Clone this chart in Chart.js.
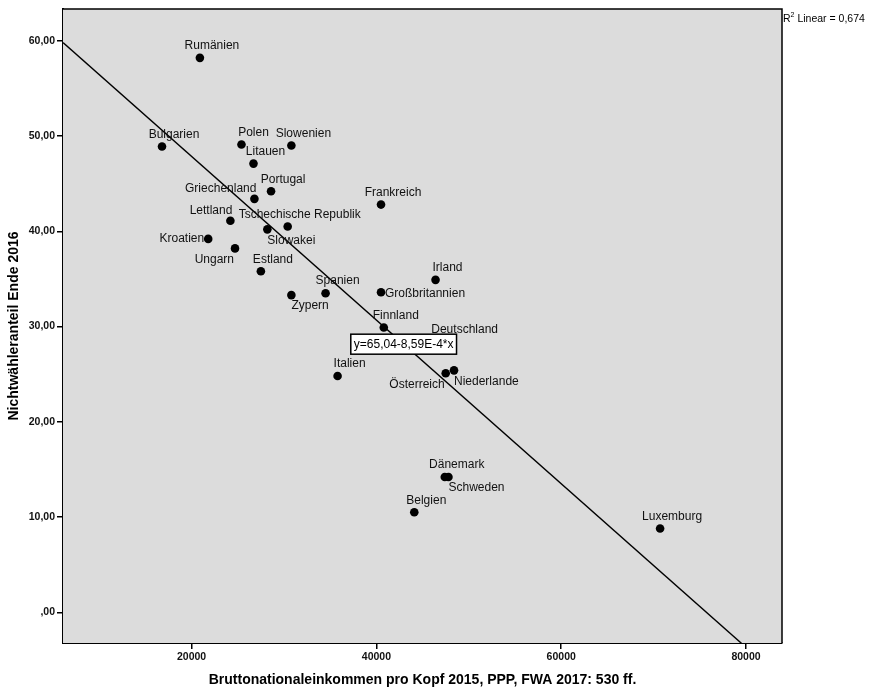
<!DOCTYPE html>
<html>
<head>
<meta charset="utf-8">
<script src="https://cdn.jsdelivr.net/npm/chart.js@4"></script>
<style>
  body { margin: 0; background: #fff; }
</style>
</head>
<body>
<canvas id="scatter" width="872" height="691"></canvas>
<script>
const countries = ['Rumänien', 'Bulgarien', 'Polen', 'Slowenien', 'Litauen', 'Portugal',
  'Griechenland', 'Lettland', 'Tschechische Republik', 'Slowakei', 'Kroatien', 'Ungarn',
  'Estland', 'Zypern', 'Spanien', 'Großbritannien', 'Irland', 'Frankreich', 'Finnland',
  'Deutschland', 'Italien', 'Österreich', 'Niederlande', 'Dänemark', 'Schweden', 'Belgien',
  'Luxemburg']
const gni = [20900, 16800, 25400, 30800, 26700, 28600,
  26800, 24200, 30400, 28200, 21800, 24700,
  27500, 30800, 34500, 40500, 46400, 40500, 40800,
  48250, 35800, 47500, 48400, 47400, 47800, 44100,
  70700]
const nonVoters = [58.2, 48.9, 49.1, 49.0, 47.1, 44.2,
  43.4, 41.1, 40.5, 40.2, 39.2, 38.2,
  35.8, 33.3, 33.5, 33.6, 34.9, 42.8, 29.9,
  28.4, 24.8, 25.1, 25.4, 14.2, 14.2, 10.5,
  8.8]
// where SPSS put each point label
const labelSide = ['above', 'above', 'above', 'above', 'above', 'above',
  'aboveLeft', 'aboveLeft', 'above', 'belowRight', 'left', 'belowLeft',
  'above', 'belowRight', 'above', 'right', 'above', 'above', 'above',
  'above', 'above', 'belowLeft', 'belowRight', 'above', 'belowRight', 'above',
  'above']

const xTicks = [20000, 40000, 60000, 80000]
const yTicks = [0, 10, 20, 30, 40, 50, 60]
const xMin = 6086, xMax = 83892
const yMin = -3.22, yMax = 63.33

// fit line from the chart: y = 65,04 - 8,59E-4 * x, R² = 0,674
const intercept = 65.04
const slope = -8.59e-4
const rSquared = '0,674'
const eqLabelX = 42950

const FONT = '"Liberation Sans", Arial, sans-serif'

const points = gni.map((g, i) => ({ x: g, y: nonVoters[i] }))
const fitLine = [xMin, xMax].map(x => ({ x: x, y: intercept + slope * x }))

const plotFrame = {
  id: 'plotFrame',
  beforeDatasetsDraw(chart) {
    const { ctx, chartArea: a } = chart
    ctx.save()
    ctx.fillStyle = '#dcdcdc'
    ctx.fillRect(a.left, a.top, a.right - a.left, a.bottom - a.top)
    ctx.restore()
  },
  afterDraw(chart) {
    const { ctx, chartArea: a } = chart
    ctx.save()
    ctx.strokeStyle = '#000'
    ctx.lineWidth = 1.5
    ctx.beginPath()
    ctx.moveTo(a.left, a.top)
    ctx.lineTo(a.right, a.top)
    ctx.lineTo(a.right, a.bottom)
    ctx.stroke()

    // R² in the top right corner
    ctx.fillStyle = '#000'
    ctx.textBaseline = 'alphabetic'
    ctx.textAlign = 'left'
    ctx.font = '10.5px ' + FONT
    let x = a.right + 1
    ctx.fillText('R', x, 22)
    x += ctx.measureText('R').width
    ctx.font = '7px ' + FONT
    ctx.fillText('2', x, 17)
    x += ctx.measureText('2').width
    ctx.font = '10.5px ' + FONT
    ctx.fillText(' Linear = ' + rSquared, x, 22)
    ctx.restore()
  }
}

const pointLabels = {
  id: 'pointLabels',
  afterDatasetsDraw(chart) {
    const { ctx, scales } = chart
    ctx.save()
    ctx.font = '12px ' + FONT
    ctx.fillStyle = '#111'
    ctx.textBaseline = 'middle'
    countries.forEach((name, i) => {
      const px = scales.x.getPixelForValue(gni[i])
      const py = scales.y.getPixelForValue(nonVoters[i])
      const side = labelSide[i]
      if (side === 'above') {
        ctx.textAlign = 'center'; ctx.fillText(name, px + 12, py - 12)
      } else if (side === 'left') {
        ctx.textAlign = 'right'; ctx.fillText(name, px - 4, py)
      } else if (side === 'right') {
        ctx.textAlign = 'left'; ctx.fillText(name, px + 4, py + 1)
      } else if (side === 'aboveLeft') {
        ctx.textAlign = 'right'; ctx.fillText(name, px + 2, py - 10)
      } else if (side === 'belowLeft') {
        ctx.textAlign = 'right'; ctx.fillText(name, px - 1, py + 11)
      } else if (side === 'belowRight') {
        ctx.textAlign = 'left'; ctx.fillText(name, px, py + 11)
      }
    })

    // equation box sitting on the fit line
    const eq = 'y=65,04-8,59E-4*x'
    const ex = scales.x.getPixelForValue(eqLabelX)
    const ey = scales.y.getPixelForValue(intercept + slope * eqLabelX)
    const w = ctx.measureText(eq).width + 6
    const h = 20
    ctx.fillStyle = '#fff'
    ctx.fillRect(ex - w / 2, ey - h / 2, w, h)
    ctx.strokeStyle = '#000'
    ctx.lineWidth = 1.5
    ctx.strokeRect(ex - w / 2, ey - h / 2, w, h)
    ctx.fillStyle = '#000'
    ctx.textAlign = 'center'
    ctx.fillText(eq, ex, ey + 1)
    ctx.restore()
  }
}

new Chart(document.getElementById('scatter'), {
  type: 'scatter',
  data: {
    datasets: [{
      data: points,
      backgroundColor: '#000',
      borderWidth: 0,
      pointRadius: 4.3,
      order: 0
    }, {
      type: 'line',
      data: fitLine,
      borderColor: '#000',
      borderWidth: 1.4,
      pointRadius: 0,
      fill: false,
      order: 1
    }]
  },
  options: {
    responsive: false,
    animation: false,
    layout: { padding: { top: 9, right: 90, left: 0, bottom: 0 } },
    plugins: {
      legend: { display: false },
      tooltip: { enabled: false }
    },
    scales: {
      x: {
        type: 'linear',
        min: xMin,
        max: xMax,
        afterBuildTicks: axis => { axis.ticks = xTicks.map(v => ({ value: v })) },
        afterFit: axis => { axis.height = 48 },
        grid: { drawOnChartArea: false, drawTicks: true, tickLength: 6, color: '#000', lineWidth: 1.5 },
        border: { color: '#000', width: 2 },
        ticks: {
          color: '#111',
          padding: 2,
          maxRotation: 0,
          font: { family: FONT, size: 10.5, weight: 'bold' },
          callback: v => String(v)
        },
        title: {
          display: true,
          text: 'Bruttonationaleinkommen pro Kopf 2015, PPP, FWA 2017: 530 ff.',
          color: '#000',
          font: { family: FONT, size: 14, weight: 'bold' },
          padding: { top: 0, bottom: 2 }
        }
      },
      y: {
        type: 'linear',
        min: yMin,
        max: yMax,
        afterBuildTicks: axis => { axis.ticks = yTicks.map(v => ({ value: v })) },
        afterFit: axis => { axis.width = 63 },
        grid: { drawOnChartArea: false, drawTicks: true, tickLength: 6, color: '#000', lineWidth: 1.5 },
        border: { color: '#000', width: 2 },
        ticks: {
          color: '#111',
          padding: 2,
          font: { family: FONT, size: 10.5, weight: 'bold' },
          callback: v => v === 0 ? ',00' : v.toFixed(2).replace('.', ',')
        },
        title: {
          display: true,
          text: 'Nichtwähleranteil Ende 2016',
          color: '#000',
          font: { family: FONT, size: 14, weight: 'bold' },
          padding: { top: 6, bottom: 0 }
        }
      }
    }
  },
  plugins: [plotFrame, pointLabels]
})
</script>
</body>
</html>
